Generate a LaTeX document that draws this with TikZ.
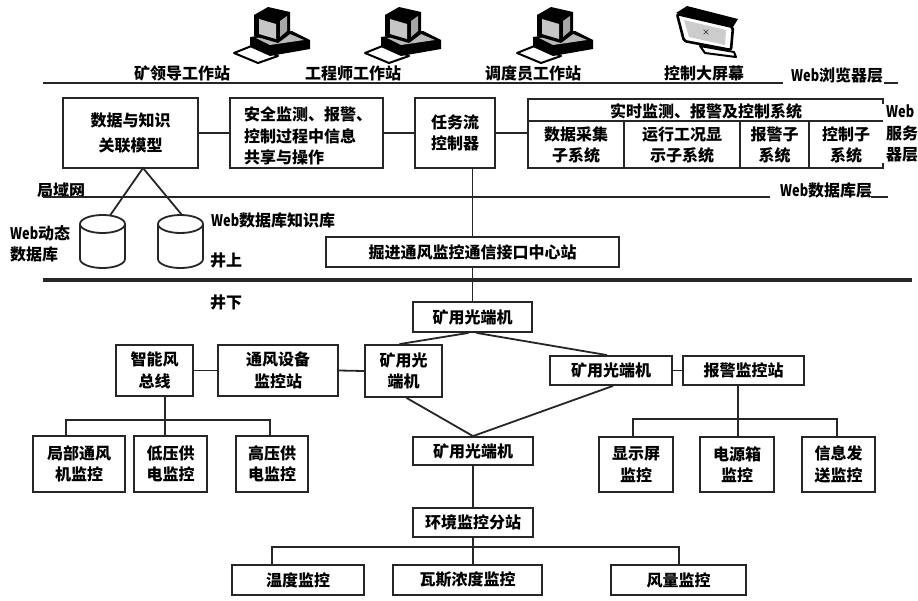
\documentclass[tikz,border=0pt]{standalone}
\usepackage{fontspec}
\setmainfont{Noto Sans CJK SC}
\usetikzlibrary{calc}
\newcommand{\webtxt}{\scalebox{0.8}[1]{Web}}
\tikzset{
  box/.style={draw=black!85, line width=1.8pt, inner sep=0pt, align=center, font=\fontsize{16}{21.5}\selectfont\bfseries},
  conn/.style={draw=black!85, line width=1.8pt},
  lbl/.style={inner sep=0pt, align=left, font=\fontsize{16}{21.5}\selectfont\bfseries},
  computer/.pic={
    \filldraw[fill=white, draw=black, line width=2pt, line join=round] (2,46) -- (22,38) -- (46,49) -- (26,56) -- cycle;
    \fill[black] (18,30) -- (60,24) -- (78,33) -- (78,42) -- (38,49) -- (18,40) -- cycle;
    \fill[gray!55] (24,31) -- (58,27) -- (72,33) -- (38,38) -- cycle;
    \fill[black] (22,8) -- (36,0) -- (58,5) -- (58,27) -- (46,36) -- (22,29) -- cycle;
    \fill[gray!45] (27,12) -- (44,17) -- (44,32) -- (27,27) -- cycle;
    \fill[gray!70] (48,14) -- (55,9) -- (55,24) -- (48,30) -- cycle;
  }
}
\begin{document}
\begin{tikzpicture}[x=1pt,y=-1pt]
\useasboundingbox (0,0) rectangle (918,600);
\fill[white] (0,0) rectangle (918,600);

% ---------- top icons ----------
\pic at (232,7) {computer};
\pic at (363,7) {computer};
\pic at (515,7) {computer};
% big screen
\fill[black] (676,13) -- (687,6) -- (738,19) -- (733,27) -- cycle;
\filldraw[fill=white, draw=black, line width=2.6pt, line join=round, rounded corners=2pt] (677,14) -- (733,27) -- (731,50) -- (684,41) -- cycle;
\fill[gray!40] (684,20) -- (726,30) -- (725,45) -- (689,37) -- cycle;
\node[inner sep=0pt, font=\fontsize{8}{8}\selectfont] (xmark) at (706,33) {×};
\filldraw[fill=white, draw=black, line width=2pt, line join=round] (700,46) -- (734,52) -- (736,57) -- (705,53) -- cycle;

% top labels
\node[lbl] (l1) at (182,73.5) {矿领导工作站};
\node[lbl] (l2) at (353,73.5) {工程师工作站};
\node[lbl] (l3) at (533,73.5) {调度员工作站};
\node[lbl] (l4) at (704,73.5) {控制大屏幕};
\node[lbl, anchor=west] (lbrowser) at (791,75) {\webtxt 浏览器层};
\draw[conn] (43,83) -- (783,83);
\draw[conn] (884,83) -- (898,83);

% ---------- web server layer ----------
\node[box, minimum width=135pt, minimum height=70pt] (model) at (130.5,133) {数据与知识\\[3.5pt]关联模型};
\node[box, minimum width=153pt, minimum height=70pt] (safety) at (306.5,133) {};
\node[lbl, anchor=west] (safetytxt) at (244,136) {安全监测、报警、\\控制过程中信息\\共享与操作};
\node[box, minimum width=80pt, minimum height=70pt] (task) at (455,133) {任务流\\控制器};
% real time system frame
\draw[conn, line join=miter] (883,104) -- (883,99) -- (528,99) -- (528,168) -- (883,168) -- (883,163);
\draw[conn] (528,121) -- (883,121);
\draw[conn] (624,121) -- (624,168);
\draw[conn] (740,121) -- (740,168);
\draw[conn] (809,121) -- (809,168);
\coordinate (rtw) at (528,133);
\node[lbl, align=center] (rttitle) at (706,111) {实时监测、报警及控制系统};
\node[lbl, align=center] (c1) at (576,145) {数据采集\\子系统};
\node[lbl, align=center] (c2) at (682,145) {运行工况显\\示子系统};
\node[lbl, align=center] (c3) at (774.5,145) {报警子\\系统};
\node[lbl, align=center] (c4) at (846,145) {控制子\\系统};
\node[lbl, anchor=west] (lserver) at (886,133.5) {\webtxt\\服务\\器层};

\draw[conn] (model.east) -- (safety.west);
\draw[conn] (safety.east) -- (task.west);
\draw[conn] (task.east) -- (rtw);

% ---------- LAN / database layer ----------
\node[lbl, anchor=west] (llan) at (37,190) {局域网};
\draw[conn] (43,197) -- (770,197);
\node[lbl, anchor=west] (ldb) at (780,190) {\webtxt 数据库层};
\draw[conn] (871,197) -- (888,197);

% cylinders
\foreach \cx in {102.5,180.5}{
  \draw[conn] (\cx-22.5,224) -- (\cx-22.5,259) arc[start angle=180, end angle=360, x radius=22.5pt, y radius=9pt] -- (\cx+22.5,224);
  \draw[conn] (\cx,224) ellipse[x radius=22.5pt, y radius=9pt];
}
\coordinate (apex) at (143,168);
\coordinate (dbL) at (110,215.5);
\coordinate (dbR) at (182,215);
\draw[conn] (dbL) -- (apex) -- (dbR);
\node[lbl, anchor=west] (ldyn) at (10,244) {\webtxt 动态\\数据库};
\node[lbl, anchor=west] (lkb) at (211,220) {\webtxt 数据库知识库};
\node[lbl, anchor=west] (lup) at (210,260) {井上};
\node[lbl, anchor=west] (ldown) at (210,302) {井下};

% center station
\node[box, minimum width=293pt, minimum height=30pt] (station) at (472.5,252) {掘进通风监控通信接口中心站};
\draw[conn] (task.south -| station.north) -- (station.north);
\draw[draw=black!85, line width=3.2pt] (43,280) -- (912,280);

% ---------- underground ----------
\node[box, minimum width=119pt, minimum height=30pt] (opt1) at (472.5,317) {矿用光端机};
\draw[conn] (station.south) -- (opt1.north);
\node[box, minimum width=77pt, minimum height=52pt] (optL) at (403.5,371) {矿用光\\端机};
\node[box, minimum width=122pt, minimum height=29pt] (optR) at (611,370.5) {矿用光端机};
\node[box, minimum width=121pt, minimum height=29pt] (alarm) at (743.5,370.5) {报警监控站};
\node[box, minimum width=120pt, minimum height=28pt] (opt2) at (473,451) {矿用光端机};
\draw[conn] ([xshift=-4pt]opt1.south) -- ([xshift=-4pt]optL.north);
\draw[conn] ([xshift=4pt]opt1.south) -- ([xshift=-4pt]optR.north);
\draw[conn] ([xshift=3pt]optL.south) -- (opt2.north);
\draw[conn] ([xshift=2pt]optR.south) -- (opt2.north);
\draw[conn] (optR.east) -- (alarm.west);

% left branch
\node[box, minimum width=77pt, minimum height=51pt] (bus) at (154.5,370.5) {智能风\\总线};
\node[box, minimum width=120pt, minimum height=51pt] (vent) at (278,370.5) {通风设备\\监控站};
\draw[conn] (bus.east) -- (vent.west);
\draw[conn] (vent.east) -- (optL.west);
\node[box, minimum width=92pt, minimum height=56pt] (local) at (79,464) {局部通风\\机监控};
\node[box, minimum width=73pt, minimum height=56pt] (low) at (170.5,464) {低压供\\电监控};
\node[box, minimum width=72pt, minimum height=56pt] (high) at (272,464) {高压供\\电监控};
\coordinate (busj) at (165,420);
\coordinate (busL) at (66,420);
\coordinate (busR) at (270,420);
\draw[conn] (bus.south -| busj) -- (busj);
\draw[conn, line join=miter] (local.north -| busL) -- (busL) -- (busR) -- (high.north -| busR);
\draw[conn] (busj) -- (low.north -| busj);

% right branch
\node[box, minimum width=74pt, minimum height=55pt] (disp) at (636,464.5) {显示屏\\监控};
\node[box, minimum width=74pt, minimum height=55pt] (power) at (737,464.5) {电源箱\\监控};
\node[box, minimum width=73pt, minimum height=55pt] (info) at (838.5,464.5) {信息发\\送监控};
\coordinate (alj) at (738,419);
\coordinate (alL) at (633,419);
\coordinate (alR) at (837,419);
\draw[conn] (alarm.south -| alj) -- (alj);
\draw[conn, line join=miter] (disp.north -| alL) -- (alL) -- (alR) -- (info.north -| alR);
\draw[conn] (alj) -- (power.north -| alj);

% environment branch
\node[box, minimum width=120pt, minimum height=29pt] (env) at (473,522.5) {环境监控分站};
\draw[conn] (opt2.south) -- (env.north);
\node[box, minimum width=132pt, minimum height=30pt] (temp) at (298,580) {温度监控};
\node[box, minimum width=149pt, minimum height=30pt] (gas) at (467.5,580) {瓦斯浓度监控};
\node[box, minimum width=135pt, minimum height=30pt] (wind) at (678.5,580) {风量监控};
\coordinate (envj) at (473,547);
\coordinate (envL) at (272,547);
\coordinate (envR) at (679,547);
\draw[conn] (env.south) -- (envj);
\draw[conn, line join=miter] (temp.north -| envL) -- (envL) -- (envR) -- (wind.north -| envR);
\draw[conn] (envj) -- (gas.north -| envj);
\end{tikzpicture}
\end{document}
